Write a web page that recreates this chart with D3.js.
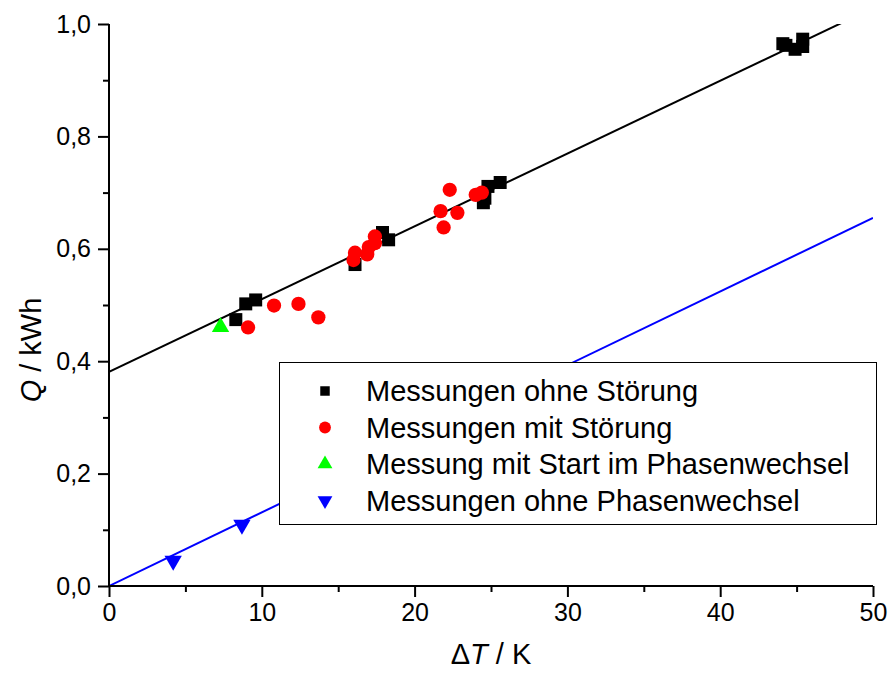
<!DOCTYPE html>
<html>
<head>
<meta charset="utf-8">
<script src="https://cdn.jsdelivr.net/npm/d3@7"></script>
<style>
  html, body { margin: 0; padding: 0; background: #fff; }
  svg { display: block; font-family: "Liberation Sans", Arial, sans-serif; }
</style>
</head>
<body>
<svg id="chart" width="889" height="673"></svg>
<script>
// Messdaten: Temperaturdifferenz ΔT (K) und gespeicherte Wärme Q (kWh)
const ohneStoerungT = [8.3, 8.95, 9.6, 16.1, 17.9, 18.3, 24.5, 24.6, 24.8, 25.6, 44.1, 44.3, 44.9, 45.4, 45.4];
const ohneStoerungQ = [0.474, 0.502, 0.509, 0.572, 0.629, 0.616, 0.682, 0.690, 0.711, 0.718, 0.965, 0.962, 0.955, 0.973, 0.960];

const mitStoerungT = [9.1, 10.8, 12.4, 13.7, 16.0, 16.1, 16.9, 17.0, 17.4, 17.4, 21.7, 21.9, 22.3, 22.8, 24.0, 24.4];
const mitStoerungQ = [0.460, 0.499, 0.502, 0.478, 0.580, 0.593, 0.590, 0.603, 0.610, 0.622, 0.667, 0.638, 0.705, 0.664, 0.696, 0.700];

const startPhasenT = [7.3];
const startPhasenQ = [0.461];

const ohnePhasenT = [4.2, 8.7];
const ohnePhasenQ = [0.045, 0.109];

// Ausgleichsgeraden Q = a + b·ΔT
const fitIntercepts = [0.381, 0.0];
const fitSlopes = [0.01295, 0.0131];
const fitColors = ["#000000", "#0000ff"];

const legendLabels = [
  "Messungen ohne Störung",
  "Messungen mit Störung",
  "Messung mit Start im Phasenwechsel",
  "Messungen ohne Phasenwechsel"
];

const xTicks = [0, 10, 20, 30, 40, 50];
const xMinorTicks = [5, 15, 25, 35, 45];
const yTicks = [0.0, 0.2, 0.4, 0.6, 0.8, 1.0];
const yMinorTicks = [0.1, 0.3, 0.5, 0.7, 0.9];

const svg = d3.select("#chart");
const margin = { left: 109, right: 16, top: 24, bottom: 87 };
const W = 889, H = 673;
const x = d3.scaleLinear().domain([0, 50]).range([margin.left, W - margin.right]);
const y = d3.scaleLinear().domain([0, 1]).range([H - margin.bottom, margin.top]);

svg.append("defs").append("clipPath").attr("id", "plotArea")
  .append("rect")
  .attr("x", x(0)).attr("y", y(1))
  .attr("width", x(50) - x(0)).attr("height", y(0) - y(1));

// Geraden
const plot = svg.append("g").attr("clip-path", "url(#plotArea)");
fitIntercepts.forEach((a, i) => {
  const b = fitSlopes[i];
  plot.append("line")
    .attr("x1", x(0)).attr("y1", y(a))
    .attr("x2", x(50)).attr("y2", y(a + b * 50))
    .attr("stroke", fitColors[i]).attr("stroke-width", 2);
});

const zip = (xs, ys) => xs.map((v, i) => [v, ys[i]]);

// Symbole
const series = [
  { pts: zip(ohneStoerungT, ohneStoerungQ), type: d3.symbolSquare, size: 169, color: "#000000", rot: 0 },
  { pts: zip(mitStoerungT, mitStoerungQ), type: d3.symbolCircle, size: 160, color: "#ff0000", rot: 0 },
  { pts: zip(startPhasenT, startPhasenQ), type: d3.symbolTriangle, size: 130, color: "#00ff00", rot: 0 },
  { pts: zip(ohnePhasenT, ohnePhasenQ), type: d3.symbolTriangle, size: 130, color: "#0000ff", rot: 180 }
];

series.forEach(s => {
  const sym = d3.symbol().type(s.type).size(s.size);
  svg.append("g").selectAll("path").data(s.pts).join("path")
    .attr("d", sym)
    .attr("fill", s.color)
    .attr("transform", d => `translate(${x(d[0])},${y(d[1])}) rotate(${s.rot})`);
});

// Achsen
const fmt = d3.format(".1f");
const yAxis = svg.append("g").attr("transform", `translate(${x(0)},0)`)
  .call(d3.axisLeft(y).tickValues(yTicks).tickSize(11).tickPadding(7)
    .tickFormat(d => fmt(d).replace(".", ",")));
svg.append("g").attr("transform", `translate(${x(0)},0)`)
  .call(d3.axisLeft(y).tickValues(yMinorTicks).tickSize(6).tickFormat(""))
  .call(g => g.select(".domain").remove());

const xAxis = svg.append("g").attr("transform", `translate(0,${y(0)})`)
  .call(d3.axisBottom(x).tickValues(xTicks).tickSize(11).tickPadding(6));
svg.append("g").attr("transform", `translate(0,${y(0)})`)
  .call(d3.axisBottom(x).tickValues(xMinorTicks).tickSize(6).tickFormat(""))
  .call(g => g.select(".domain").remove());

svg.selectAll(".domain").attr("stroke", "#000").attr("stroke-width", 2);
svg.selectAll(".tick line").attr("stroke", "#000").attr("stroke-width", 2);
svg.selectAll(".tick text").attr("font-size", 25).attr("fill", "#000")
  .attr("font-family", "'Liberation Sans', Arial, sans-serif");
yAxis.selectAll(".domain").attr("d", `M0,${y(0)}V${y(1)}`);
xAxis.selectAll(".domain").attr("d", `M${x(0)},0H${x(50)}`);

// Achsentitel
const xt = svg.append("text")
  .attr("x", (x(0) + x(50)) / 2).attr("y", 664)
  .attr("text-anchor", "middle").attr("font-size", 29);
xt.append("tspan").text("Δ");
xt.append("tspan").attr("font-style", "italic").text("T");
xt.append("tspan").text(" / K");

const yt = svg.append("text")
  .attr("transform", `translate(41,${(y(0) + y(1)) / 2 + 45}) rotate(-90)`)
  .attr("text-anchor", "middle").attr("font-size", 29);
yt.append("tspan").attr("font-style", "italic").text("Q");
yt.append("tspan").text(" / kWh");

// Legende
const lg = svg.append("g");
lg.append("rect")
  .attr("x", 279.5).attr("y", 362.5).attr("width", 597).attr("height", 162)
  .attr("fill", "#fff").attr("stroke", "#000").attr("stroke-width", 1);
const legendSymbols = [
  { type: d3.symbolSquare, size: 90, color: "#000000", rot: 0 },
  { type: d3.symbolCircle, size: 110, color: "#ff0000", rot: 0 },
  { type: d3.symbolTriangle, size: 95, color: "#00ff00", rot: 0 },
  { type: d3.symbolTriangle, size: 95, color: "#0000ff", rot: 180 }
];
legendLabels.forEach((label, i) => {
  const cy = 391 + i * 36.5;
  const s = legendSymbols[i];
  lg.append("path")
    .attr("d", d3.symbol().type(s.type).size(s.size))
    .attr("fill", s.color)
    .attr("transform", `translate(325,${cy}) rotate(${s.rot})`);
  lg.append("text")
    .attr("x", 366).attr("y", cy).attr("dy", "0.35em")
    .attr("font-size", 29).attr("fill", "#000").text(label);
});
</script>
</body>
</html>
